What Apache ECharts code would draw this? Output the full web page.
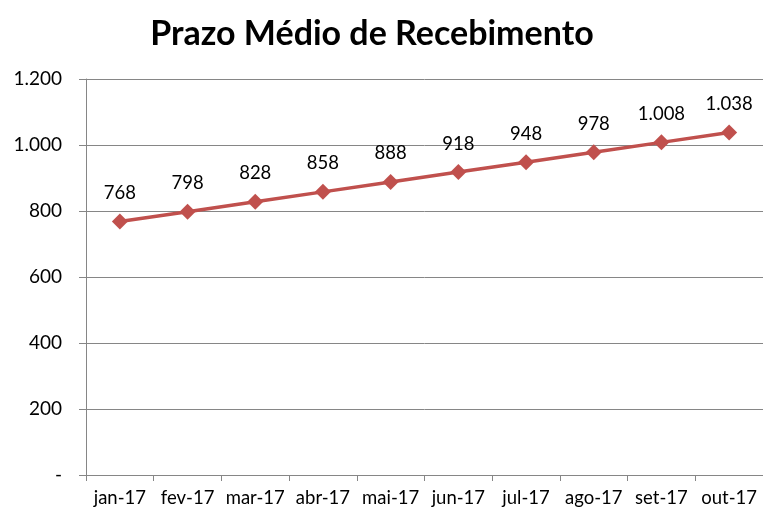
<!DOCTYPE html>
<html><head><meta charset="utf-8">
<script src="https://cdn.jsdelivr.net/npm/echarts@6/dist/echarts.min.js"></script>
<style>html,body{margin:0;padding:0;background:#fff}#c{width:763px;height:514px}</style>
</head><body><div id="c"></div>
<script>
const categories = ['jan-17','fev-17','mar-17','abr-17','mai-17','jun-17','jul-17','ago-17','set-17','out-17'];
const values = [768, 798, 828, 858, 888, 918, 948, 978, 1008, 1038];
const titleText = 'Prazo Médio de Recebimento';
function fmt(v){ if(v===0) return '-'; return String(v).replace(/\B(?=(\d{3})+(?!\d))/g,'.'); }
const chart = echarts.init(document.getElementById('c'));
chart.setOption({
  animation:false,
  backgroundColor:'#fff',
  title:{text:titleText,left:367,top:12,textAlign:'center',
    textStyle:{fontFamily:'Lato',fontWeight:'bold',fontSize:34,color:'#000'}},
  grid:{left:86,top:79,width:679,height:396},
  xAxis:{type:'category',data:categories,boundaryGap:true,
    axisLine:{lineStyle:{color:'#868686',width:1}},
    axisTick:{show:true,length:6,alignWithLabel:false,lineStyle:{color:'#868686'}},
    axisLabel:{margin:14,fontFamily:'Lato',fontSize:18.5,color:'#000',interval:0}},
  yAxis:{type:'value',min:0,max:1200,interval:200,
    axisLine:{show:true,lineStyle:{color:'#868686'}},
    axisTick:{show:true,length:7,lineStyle:{color:'#868686'}},
    splitLine:{lineStyle:{color:'#868686'}},
    axisLabel:{margin:24,fontFamily:'Lato',fontSize:19,color:'#000',formatter:fmt}},
  series:[{type:'line',data:values,symbol:'diamond',symbolSize:16,
    lineStyle:{color:'#C0504D',width:3.5},
    itemStyle:{color:'#C0504D'},
    label:{show:true,position:'top',distance:11,fontFamily:'Lato',fontSize:18.5,color:'#000',
      formatter:p=>fmt(p.value)}}]
});
</script></body></html>
